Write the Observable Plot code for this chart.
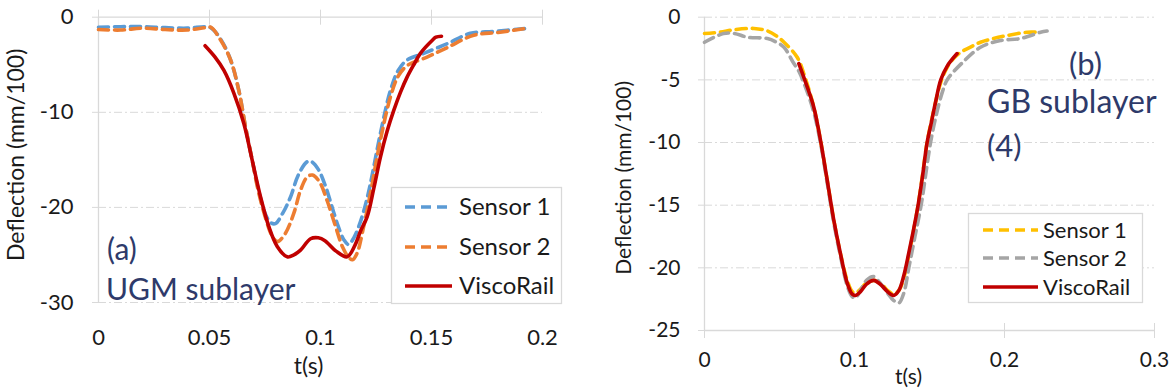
<!DOCTYPE html>
<html><head><meta charset="utf-8">
<script src="https://cdn.jsdelivr.net/npm/d3@7"></script>
<script src="https://cdn.jsdelivr.net/npm/@observablehq/plot@0.6"></script>
<style>
body{margin:0;background:#fff;font-family:Lato,sans-serif;}
#wrap{position:relative;width:1172px;height:392px;overflow:hidden;background:#fff;}
.panel{position:absolute;top:0;}
#overlay{position:absolute;left:0;top:0;pointer-events:none;}
</style></head><body><div id="wrap"></div>
<script>
// ---------- Panel (a): UGM sublayer ----------
const xTicksA = [0, 0.05, 0.1, 0.15, 0.2];
const yTicksA = [0, -10, -20, -30];
const tA_s1 = [0,0.01,0.02,0.03,0.04,0.048,0.0505,0.055,0.0595,0.0632,0.0662,0.0692,0.0722,0.075,0.0775,0.0797,0.083,0.0865,0.09,0.094,0.096,0.099,0.102,0.105,0.108,0.1105,0.1126,0.115,0.118,0.1205,0.1225,0.127,0.1315,0.135,0.139,0.1465,0.157,0.1675,0.178,0.192];
const vA_s1 = [-1.05,-1.0,-1.0,-1.1,-1.15,-1.0,-1.1,-2.3,-4.5,-7.7,-11.5,-15.0,-18.3,-20.6,-21.6,-21.7,-20.6,-18.9,-16.6,-15.2,-15.2,-16.0,-17.6,-19.8,-22.0,-23.4,-23.9,-23.2,-21.5,-19.5,-17.5,-12.2,-7.7,-5.6,-4.5,-3.8,-2.8,-1.7,-1.5,-1.2];
const tA_s2 = [0,0.01,0.02,0.03,0.04,0.048,0.0505,0.055,0.0595,0.0632,0.0662,0.0692,0.0722,0.0755,0.078,0.0805,0.084,0.088,0.091,0.094,0.0964,0.0995,0.103,0.1065,0.110,0.1125,0.1144,0.1165,0.119,0.1225,0.127,0.1315,0.135,0.139,0.148,0.157,0.169,0.18,0.192];
const vA_s2 = [-1.3,-1.35,-1.15,-1.3,-1.35,-1.1,-1.05,-2.4,-4.5,-7.7,-11.5,-15.0,-18.5,-21.3,-22.9,-23.6,-22.8,-20.6,-18.2,-16.8,-16.6,-17.3,-19.3,-21.8,-24.2,-25.2,-25.5,-24.8,-22.5,-18.5,-12.9,-8.4,-6.2,-5.1,-4.2,-3.2,-1.9,-1.6,-1.2];
const tA_vr = [0.048,0.0525,0.0565,0.061,0.0655,0.0692,0.073,0.0767,0.0805,0.085,0.088,0.091,0.0955,0.099,0.102,0.107,0.112,0.1155,0.118,0.121,0.124,0.127,0.130,0.133,0.136,0.139,0.142,0.145,0.1505,0.152,0.1545];
const vA_vr = [-3.0,-4.2,-5.6,-8.0,-11.2,-15.0,-18.9,-22.0,-24.1,-25.2,-25.0,-24.5,-23.3,-23.2,-23.5,-24.6,-25.2,-24.0,-22.5,-21.0,-18.0,-14.7,-12.0,-9.8,-7.9,-6.3,-5.0,-3.8,-2.4,-2.1,-2.0];

// ---------- Panel (b): GB sublayer (4) ----------
const xTicksB = [0, 0.1, 0.2, 0.3];
const yTicksB = [0, -5, -10, -15, -20, -25];
const tB_s1 = [0,0.01,0.02,0.033,0.042,0.048,0.053,0.0618,0.067,0.0729,0.0773,0.0818,0.0862,0.0907,0.0951,0.0985,0.1007,0.104,0.108,0.113,0.118,0.122,0.1262,0.1296,0.1329,0.1362,0.1396,0.1424,0.1451,0.1484,0.1518,0.1575,0.1618,0.166,0.1707,0.177,0.184,0.1927,0.2018,0.2151,0.2218];
const vB_s1 = [-1.3,-1.2,-1.0,-0.9,-1.1,-1.5,-2.0,-3.2,-4.8,-7.2,-9.8,-13.0,-16.2,-18.9,-21.0,-21.9,-22.0,-21.7,-21.2,-21.0,-21.3,-21.8,-22.1,-21.8,-20.8,-19.0,-16.9,-15.0,-12.8,-10.0,-8.0,-5.2,-4.0,-3.3,-2.8,-2.4,-2.0,-1.7,-1.46,-1.2,-1.2];
const tB_s2 = [0,0.0127,0.02,0.0287,0.042,0.048,0.053,0.0596,0.0629,0.068,0.0729,0.0773,0.0818,0.0862,0.0907,0.0951,0.0985,0.1007,0.104,0.108,0.1127,0.117,0.122,0.126,0.1296,0.1329,0.1362,0.1403,0.1444,0.1507,0.1545,0.1585,0.1618,0.1713,0.184,0.1973,0.2107,0.224,0.2284];
const vB_s2 = [-2.0,-1.3,-1.3,-1.6,-1.7,-2.0,-2.4,-3.7,-4.3,-5.8,-7.6,-10.0,-13.2,-16.4,-19.1,-21.4,-22.3,-22.4,-21.8,-21.0,-20.7,-21.2,-22.0,-22.6,-22.8,-22.0,-20.0,-17.5,-15.0,-10.0,-7.8,-6.0,-5.0,-3.7,-2.4,-1.86,-1.7,-1.2,-1.1];
const tB_vr = [0.0629,0.068,0.0729,0.0773,0.0818,0.0862,0.0907,0.0951,0.0985,0.1007,0.104,0.108,0.1129,0.118,0.122,0.1262,0.1296,0.1329,0.1362,0.1396,0.1424,0.1451,0.1484,0.1507,0.154,0.1575,0.1618,0.1684];
const vB_vr = [-3.7,-5.4,-7.2,-9.8,-13.0,-16.2,-18.9,-21.2,-22.1,-22.2,-21.9,-21.3,-21.0,-21.4,-21.9,-22.2,-21.8,-20.6,-18.8,-16.8,-15.0,-12.9,-10.0,-8.7,-6.8,-5.0,-3.9,-2.9];

const seriesNames = ["Sensor 1", "Sensor 2", "ViscoRail"];
const colorsA = ["#5B9BD5", "#ED7D31", "#C00000"];
const colorsB = ["#FFC000", "#A5A5A5", "#C00000"];
const yTitle = "Deflection (mm/100)";
const xTitle = "t(s)";
const notesA = ["(a)", "UGM sublayer"];
const notesB = ["(b)", "GB sublayer", "(4)"];

const zip = (ts, vs) => ts.map((t, i) => ({t, v: vs[i]}));
const GRID = "#d9d9d9";
const TXT = "#1a1a1a";
const FONT = "Lato";
const fmt = d => String(d);

function lineMarks(sets, colors) {
  return sets.map((d, i) => Plot.line(d, {
    x: "t", y: "v", stroke: colors[i], strokeWidth: 3.6,
    strokeDasharray: i < 2 ? "10,6" : null,
    curve: "catmull-rom"
  }));
}

// Panel A
const plotA = Plot.plot({
  width: 580, height: 392,
  marginLeft: 98, marginRight: 38, marginTop: 16.7, marginBottom: 90,
  x: {domain: [0, 0.2]},
  y: {domain: [-30, 0]},
  style: {fontFamily: FONT, background: "transparent", overflow: "visible"},
  marks: [
    Plot.ruleY(yTicksA.filter(d => d !== 0), {stroke: GRID, strokeDasharray: "8,3,2,3"}),
    Plot.ruleX([0], {stroke: GRID, strokeWidth: 1.3}),
    Plot.ruleY([0], {stroke: GRID, strokeWidth: 1.3}),
    Plot.axisY({ticks: yTicksA, tickSize: 6, tickFormat: () => "", color: GRID, label: null}),
    Plot.axisY({ticks: yTicksA, tickSize: 0, tickPadding: 25, tickFormat: fmt, fontSize: 22, color: TXT, label: null}),
    Plot.axisX({anchor: "top", ticks: xTicksA, tickSize: 15, dy: 7, tickFormat: () => "", color: GRID, label: null}),
    Plot.axisX({anchor: "bottom", ticks: xTicksA, tickSize: 0, tickPadding: 27, tickFormat: fmt, fontSize: 22, color: TXT, label: null}),
    Plot.text([yTitle], {text: d => d, frameAnchor: "left", textAnchor: "middle", rotate: -90, dx: -82, dy: -5, fontSize: 23, fill: TXT}),
    Plot.text([xTitle], {text: d => d, frameAnchor: "bottom", textAnchor: "middle", dx: -12, dy: 71, fontSize: 23, fill: TXT}),
    ...lineMarks([zip(tA_s1, vA_s1), zip(tA_s2, vA_s2), zip(tA_vr, vA_vr)], colorsA)
  ]
});

// Panel B
const plotB = Plot.plot({
  width: 592, height: 392,
  marginLeft: 124, marginRight: 18, marginTop: 16.7, marginBottom: 62,
  x: {domain: [0, 0.3]},
  y: {domain: [-25, 0]},
  style: {fontFamily: FONT, background: "transparent", overflow: "visible"},
  marks: [
    Plot.ruleY(yTicksB.filter(d => d !== -25), {stroke: GRID, strokeDasharray: "8,3,2,3"}),
    Plot.ruleX([0], {stroke: GRID, strokeWidth: 1.3}),
    Plot.ruleY([-25], {stroke: GRID, strokeWidth: 1.3}),
    Plot.axisY({ticks: yTicksB, tickSize: 6, tickFormat: () => "", color: GRID, label: null}),
    Plot.axisY({ticks: yTicksB, tickSize: 0, tickPadding: 24, tickFormat: fmt, fontSize: 21, color: TXT, label: null}),
    Plot.axisX({anchor: "bottom", ticks: xTicksB, tickSize: 15, dy: -7, tickFormat: () => "", color: GRID, label: null}),
    Plot.axisX({anchor: "bottom", ticks: xTicksB, tickSize: 0, tickPadding: 22, tickFormat: fmt, fontSize: 21, color: TXT, label: null}),
    Plot.text([yTitle], {text: d => d, frameAnchor: "left", textAnchor: "middle", rotate: -90, dx: -80, dy: 4, fontSize: 21, fill: TXT}),
    Plot.text([xTitle], {text: d => d, frameAnchor: "bottom", textAnchor: "middle", dx: -21, dy: 53, fontSize: 21, fill: TXT}),
    ...lineMarks([zip(tB_s1, vB_s1), zip(tB_s2, vB_s2), zip(tB_vr, vB_vr)], colorsB)
  ]
});

const wrap = document.getElementById("wrap");
plotA.classList.add("panel"); plotA.style.left = "0px";
plotB.classList.add("panel"); plotB.style.left = "580px";
wrap.appendChild(plotA);
wrap.appendChild(plotB);

// Overlay: legends and annotations
const ov = d3.select(wrap).append("svg").attr("id", "overlay")
  .attr("width", 1172).attr("height", 392).style("font-family", FONT);

function legend(x, y, w, h, rows, lx1, lx2, tx, fs, colors) {
  const g = ov.append("g").attr("transform", `translate(${x},${y})`);
  g.append("rect").attr("x", 0.5).attr("y", 0.5).attr("width", w).attr("height", h)
    .attr("fill", "#fff").attr("stroke", GRID).attr("stroke-width", 1.3);
  seriesNames.forEach((name, i) => {
    g.append("line").attr("x1", lx1).attr("x2", lx2).attr("y1", rows[i]).attr("y2", rows[i])
      .attr("stroke", colors[i]).attr("stroke-width", 3.6)
      .attr("stroke-dasharray", i < 2 ? "10,6" : null);
    g.append("text").attr("x", tx).attr("y", rows[i]).attr("dy", "0.35em")
      .attr("font-size", fs).attr("fill", TXT).text(name);
  });
}
legend(391, 187, 170, 116, [20, 60, 99], 14, 61, 68, 24, colorsA);
legend(968, 213, 174, 89, [17, 45, 74], 15, 70, 75, 22, colorsB);

const NAVY = "#2E3A6A";
function note(x, y, txt, fs) {
  ov.append("text").attr("x", x).attr("y", y).attr("font-size", fs).attr("fill", NAVY).text(txt);
}
note(107, 260, notesA[0], 30);
note(106, 300, notesA[1], 30);
note(1069, 75, notesB[0], 31);
note(987, 113, notesB[1], 32);
note(987, 157, notesB[2], 31);
</script></body></html>
